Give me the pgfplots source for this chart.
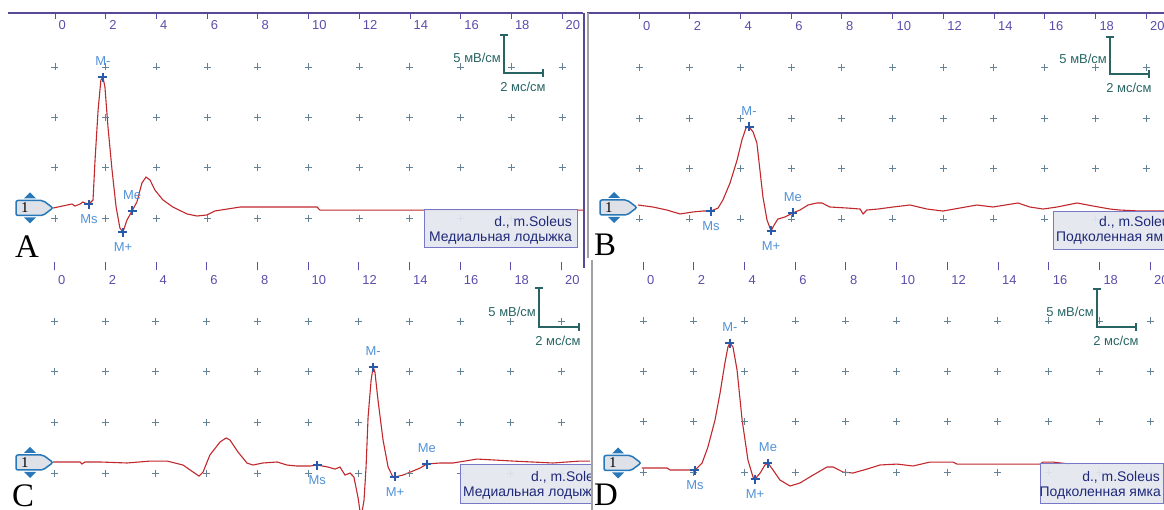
\documentclass[border=0pt]{standalone}
\usepackage{pgfplots}
\pgfplotsset{compat=1.18}
\usepackage{pgfplotstable}
\usepackage{fontspec}
\setmainfont{Liberation Sans}
\newfontfamily\serifff{Liberation Serif}
\definecolor{tracecol}{RGB}{192,40,44}
\definecolor{tickcol}{RGB}{90,78,170}
\definecolor{topline}{RGB}{88,72,150}
\definecolor{gridcol}{RGB}{100,130,150}
\definecolor{markcol}{RGB}{40,90,170}
\definecolor{mlabcol}{RGB}{80,145,215}
\definecolor{scalecol}{RGB}{40,100,100}
\definecolor{boxfill}{RGB}{228,230,238}
\definecolor{boxdraw}{RGB}{120,120,200}
\definecolor{boxtext}{RGB}{30,40,120}
\definecolor{tagblue}{RGB}{40,120,185}
\definecolor{tagfill}{RGB}{222,226,232}
\definecolor{divgray}{RGB}{160,160,165}
\newcommand\ui{\fontsize{13}{15}\selectfont}
\newcommand\bx{\fontsize{14}{16}\selectfont}

\pgfplotstableread[row sep=\\]{x y\\0 0\\0 5\\0 10\\0 15\\2 0\\2 5\\2 10\\2 15\\4 0\\4 5\\4 10\\4 15\\6 0\\6 5\\6 10\\6 15\\8 0\\8 5\\8 10\\8 15\\10 0\\10 5\\10 10\\10 15\\12 0\\12 5\\12 10\\12 15\\14 0\\14 5\\14 10\\14 15\\16 0\\16 5\\16 10\\16 15\\18 0\\18 5\\18 10\\18 15\\20 0\\20 5\\20 10\\20 15\\}\gridpts

\pgfplotsset{
 panel/.style={
   x=25.35bp,
   axis x line=top, axis y line=none,
   x axis line style={-},
   enlargelimits=false,
   xtick={0,2,...,20},
   tick align=inside,
   major tick length=6bp,
   xtick style={draw=tickcol, line width=0.8bp},
   /pgf/number format/assume math mode=true,
   xticklabel style={font=\ui, text=tickcol, anchor=north west, inner sep=0pt},
   clip=true,
 },
 gridmarks/.style={only marks, mark=+, mark size=3.5bp, mark options={draw=gridcol, line width=0.9bp}},
 trace/.style={tracecol, line width=1.1bp, mark=none},
 mkabove/.style={only marks, mark=+, mark size=4.5bp, mark options={draw=markcol, line width=1.8bp},
   nodes near coords, point meta=explicit symbolic, nodes near coords align=center,
   nodes near coords style={anchor=center, yshift=16bp, font=\ui, text=mlabcol, inner sep=0pt}},
 mkbelow/.style={only marks, mark=+, mark size=4.5bp, mark options={draw=markcol, line width=1.8bp},
   nodes near coords, point meta=explicit symbolic, nodes near coords align=center,
   nodes near coords style={anchor=center, yshift=-15bp, font=\ui, text=mlabcol, inner sep=0pt}},
}

\newcommand\chantag[2]{% #1 left x, #2 centre y
  \draw[tagblue, line width=1.5bp, fill=tagfill, rounded corners=2bp]
    (#1,#2-7.5) -- (#1+27,#2-7.5) -- (#1+37,#2) -- (#1+27,#2+7.5) -- (#1,#2+7.5) -- cycle;
  \node[anchor=west, inner sep=0pt, font=\serifff\fontsize{15}{16}\selectfont] at (#1+5,#2) {1};
  \fill[tagblue] (#1+8,#2+9.5) -- (#1+20,#2+9.5) -- (#1+14,#2+15.5) -- cycle;
  \fill[tagblue] (#1+8,#2-9.5) -- (#1+20,#2-9.5) -- (#1+14,#2-15.5) -- cycle;
}
\newcommand\scalebar[4]{% #1 x of vertical, #2 top y, #3 bottom y, #4 right x
  \draw[scalecol, line width=1.3bp] (#1-4,#2) -- (#1+4,#2) (#1,#2) -- (#1,#3) -- (#4,#3) (#4,#3-4) -- (#4,#3+4);
  \node[anchor=east, text=scalecol, font=\ui, inner sep=0pt] at (#1-3,#3+15) {5 мВ/см};
  \node[anchor=center, text=scalecol, font=\ui, inner sep=0pt] at (#1+19,#3-14) {2 мс/см};
}

\begin{document}
\begin{tikzpicture}
\useasboundingbox (0,0) rectangle (1164bp,510bp);
\clip (0,0) rectangle (1164bp,510bp);

% ---------- A ----------
\begin{axis}[panel, at={(8bp,252bp)}, anchor=south west,
  xmin=-1.854, xmax=20.83, ymin=-3.97, ymax=20.36, y=10.07bp,
  xticklabel style={xshift=3.5bp, yshift=-7.5bp},
  x axis line style={draw=topline, line width=2bp}]
\addplot[gridmarks] table[x=x,y=y] {\gridpts};
\addplot[trace] coordinates {(-0.08,0.99) (0.67,1.39) (0.79,1.19) (0.99,1.39) (1.10,1.59) (1.18,1.49) (1.34,1.39) (1.50,1.79) (1.58,5.76) (1.70,10.72) (1.81,13.70) (1.89,14.00) (1.97,13.01) (2.09,9.04) (2.25,4.77) (2.41,1.09) (2.56,-0.99) (2.68,-1.39) (2.84,-0.20) (3.04,0.70) (3.23,1.59) (3.43,3.48) (3.59,4.07) (3.75,3.77) (3.94,2.78) (4.26,1.79) (4.65,1.09) (5.21,0.40) (5.60,0.20) (5.99,0.30) (6.31,0.70) (6.79,0.89) (7.30,1.09) (10.34,1.09) (10.45,0.79) (20.83,0.79)};
\addplot[mkabove] coordinates {(1.89,14.00) [M-] (3.04,0.70) [Me]};
\addplot[mkbelow] coordinates {(1.34,1.39) [Ms] (2.68,-1.39) [M+]};
\end{axis}

% ---------- B ----------
\begin{axis}[panel, at={(587bp,252bp)}, anchor=south west,
  xmin=-2.051, xmax=20.71, ymin=-3.873, ymax=20.457, y=10.07bp,
  xticklabel style={xshift=4bp, yshift=-8bp},
  x axis line style={draw=topline, line width=2bp}]
\addplot[gridmarks] table[x=x,y=y] {\gridpts};
\addplot[trace] coordinates {(-0.04,1.39) (0.55,1.19) (1.10,0.89) (1.62,0.50) (2.13,0.70) (2.52,0.79) (2.84,0.79) (3.12,1.09) (3.31,1.89) (3.59,3.57) (3.87,5.86) (4.06,7.85) (4.22,9.04) (4.34,9.14) (4.50,8.64) (4.65,7.55) (4.77,4.87) (4.89,2.18) (5.05,-0.10) (5.21,-1.19) (5.33,-0.60) (5.48,0.00) (5.76,0.20) (6.07,0.60) (6.35,0.89) (6.67,1.39) (7.02,1.59) (7.22,1.59) (7.53,1.19) (8.21,1.09) (8.72,0.99) (8.84,0.50) (8.99,0.89) (9.43,0.99) (10.02,1.19) (10.69,1.39) (11.36,0.99) (11.99,0.79) (12.66,1.09) (13.33,1.39) (13.96,1.19) (14.95,1.59) (15.42,1.19) (15.94,0.99) (16.49,1.19) (17.28,1.59) (17.91,1.29) (18.58,0.99) (18.97,0.89) (19.76,0.79) (20.71,0.79)};
\addplot[mkabove] coordinates {(4.34,9.14) [M-] (6.07,0.60) [Me]};
\addplot[mkbelow] coordinates {(2.84,0.79) [Ms] (5.21,-1.19) [M+]};
\end{axis}

% ---------- C ----------
\begin{axis}[panel, at={(0bp,0bp)}, anchor=south west,
  xmin=-2.15, xmax=21.12, ymin=-3.65, ymax=20.83, y=10.13bp,
  major tick length=8bp,
  xticklabel style={xshift=3.5bp, yshift=-13bp},
  x axis line style={draw=none}]
\addplot[gridmarks] table[x=x,y=y] {\gridpts};
\addplot[trace] coordinates {(-0.06,1.09) (1.01,1.09) (1.08,0.89) (1.20,1.09) (1.79,1.09) (2.86,0.99) (3.77,1.18) (4.44,1.18) (5.07,0.79) (5.35,0.30) (5.70,-0.30) (5.86,0.10) (6.13,1.78) (6.53,3.06) (6.77,3.46) (6.92,3.26) (7.24,2.07) (7.59,0.99) (7.83,0.79) (8.22,0.99) (8.78,1.09) (9.17,0.79) (9.57,0.69) (10.08,0.69) (10.36,0.79) (10.79,0.59) (11.07,0.39) (11.26,0.59) (11.46,-0.20) (11.66,0.00) (11.81,-0.39) (11.97,-2.37) (12.09,-4.44) (12.21,-2.67) (12.29,0.59) (12.37,5.53) (12.49,9.18) (12.57,10.46) (12.64,9.97) (12.76,7.21) (12.96,3.26) (13.16,0.59) (13.35,-0.39) (13.43,-0.39) (13.75,-0.20) (14.14,0.20) (14.42,0.49) (14.69,0.89) (15.21,0.99) (15.72,0.99) (16.67,1.38) (18.09,1.18) (19.66,0.99) (20.73,1.18) (21.12,1.18)};
\addplot[mkabove] coordinates {(12.57,10.46) [M-] (14.69,0.89) [Me]};
\addplot[mkbelow] coordinates {(10.36,0.79) [Ms] (13.43,-0.39) [M+]};
\end{axis}

% ---------- D ----------
\begin{axis}[panel, at={(594bp,0bp)}, anchor=south west,
  xmin=-1.933, xmax=20.55, ymin=-3.77, ymax=20.85, y=10.07bp,
  major tick length=8bp,
  xticklabel style={xshift=4bp, yshift=-13bp},
  x axis line style={draw=none}]
\addplot[gridmarks] table[x=x,y=y] {\gridpts};
\addplot[trace] coordinates {(-0.04,0.40) (0.95,0.40) (1.07,0.20) (2.05,0.20) (2.33,0.89) (2.56,2.48) (2.84,5.16) (3.04,7.85) (3.23,10.82) (3.35,12.41) (3.43,12.81) (3.55,12.41) (3.71,10.13) (3.91,5.16) (4.14,1.19) (4.34,-0.50) (4.42,-0.70) (4.62,-0.10) (4.81,0.70) (4.93,0.89) (5.13,0.20) (5.40,-0.79) (5.80,-1.39) (6.19,-1.09) (6.71,-0.30) (7.26,0.50) (7.50,0.50) (7.89,0.00) (8.28,-0.10) (8.84,0.30) (9.35,0.70) (10.02,0.79) (10.65,0.60) (11.32,0.99) (12.23,0.99) (12.39,0.79) (15.66,0.79) (15.78,0.99) (16.17,0.99) (16.84,0.79)};
\addplot[mkabove] coordinates {(3.43,12.81) [M-] (4.93,0.89) [Me]};
\addplot[mkbelow] coordinates {(2.05,0.20) [Ms] (4.42,-0.70) [M+]};
\end{axis}

\begin{scope}[x=1bp, y=1bp]
% dividers
\draw[topline, line width=2bp] (584,242) -- (584,497);
\draw[divgray, line width=2.5bp] (588,252) -- (588,497);
% info boxes
\fill[boxfill, fill opacity=0.92] (424,262) rectangle (577,300);
\draw[boxdraw, line width=1bp] (424,262) rectangle (577,300);
\node[anchor=east, inner sep=0pt, font=\bx, text=boxtext] at (572,288) {d., m.Soleus};
\node[anchor=east, inner sep=0pt, font=\bx, text=boxtext] at (572,272) {Медиальная лодыжка};
\fill[boxfill, fill opacity=0.92] (1053,260) rectangle (1180,298);
\draw[boxdraw, line width=1bp] (1180,298) -- (1053,298) -- (1053,260) -- (1180,260);
\node[anchor=west, inner sep=0pt, font=\bx, text=boxtext] at (1099,288) {d., m.Soleus};
\node[anchor=west, inner sep=0pt, font=\bx, text=boxtext] at (1056,272) {Подколенная ямка};
\begin{scope}
\clip (0,0) rectangle (591,300);
\fill[boxfill, fill opacity=0.92] (460,7) rectangle (600,45);
\draw[boxdraw, line width=1bp] (600,45) -- (460,45) -- (460,7) -- (600,7);
\node[anchor=west, inner sep=0pt, font=\bx, text=boxtext] at (531,33) {d., m.Sole};
\node[anchor=west, inner sep=0pt, font=\bx, text=boxtext] at (463,17) {Медиальная лодыж};
\end{scope}
\draw[divgray, line width=2bp] (592,0) -- (592,250);
\fill[boxfill, fill opacity=0.92] (1040,7) rectangle (1163,46);
\draw[boxdraw, line width=1bp] (1040,7) rectangle (1163,46);
\node[anchor=east, inner sep=0pt, font=\bx, text=boxtext] at (1160,33) {d., m.Soleus};
\node[anchor=east, inner sep=0pt, font=\bx, text=boxtext] at (1161,17) {Подколенная ямка};
% channel tags
\chantag{16}{302}
\chantag{600}{302.5}
\chantag{16}{47.5}
\chantag{604}{47}
% scale bars
\scalebar{504}{475}{437}{543}
\scalebar{1110}{473}{436}{1149}
\scalebar{539}{222}{183}{579}
\scalebar{1097}{221}{183}{1136}
% panel letters
\node[anchor=base west, inner sep=0pt, font=\serifff\fontsize{33}{36}\selectfont] at (15,253) {A};
\node[anchor=base west, inner sep=0pt, font=\serifff\fontsize{33}{36}\selectfont] at (594,255) {B};
\node[anchor=base west, inner sep=0pt, font=\serifff\fontsize{33}{36}\selectfont] at (12,4) {C};
\node[anchor=base west, inner sep=0pt, font=\serifff\fontsize{33}{36}\selectfont] at (594,5) {D};
\end{scope}
\end{tikzpicture}
\end{document}
